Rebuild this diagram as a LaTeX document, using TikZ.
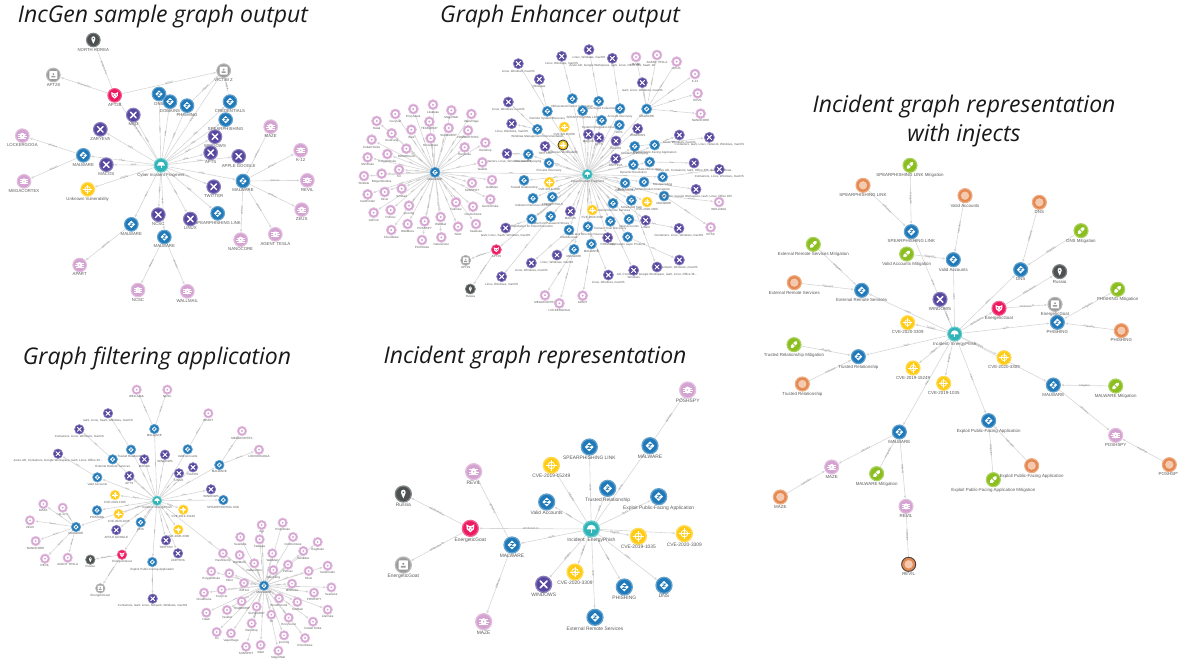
\documentclass[tikz,border=0pt]{standalone}
\usepackage{fontspec}
\setmainfont{Liberation Sans}
\newfontfamily\titlefont[ItalicFont={Open Sans Italic}]{Open Sans}
\usetikzlibrary{arrows.meta}
\pgfdeclarelayer{edges}
\pgfsetlayers{edges,main}
\definecolor{kap}{HTML}{2079B8}
\definecolor{ctool}{HTML}{58479F}
\definecolor{cmal}{HTML}{D5A3D2}
\definecolor{cvul}{HTML}{FFCB14}
\definecolor{cinc}{HTML}{2FB4B8}
\definecolor{cact}{HTML}{EC1A61}
\definecolor{cloc}{HTML}{4D5151}
\definecolor{cid}{HTML}{9B9B9B}
\definecolor{cind}{HTML}{E5884F}
\definecolor{cmit}{HTML}{8ABF1F}
\definecolor{cedge}{HTML}{D6D6D6}
\definecolor{clab}{HTML}{595959}
\tikzset{
 gbase/.style={circle,inner sep=0pt,minimum size={2*\R pt},line width={\R*0.16 pt}},
 nap/.style={gbase,fill=kap,draw=kap!70},
 ntool/.style={gbase,fill=ctool,draw=ctool!70},
 nmal/.style={gbase,fill=cmal,draw=cmal!70},
 nmals/.style={gbase,fill=cmal,draw=cmal!70},
 nvul/.style={gbase,fill=cvul,draw=cvul!70},
 ninc/.style={gbase,fill=cinc,draw=cinc!70},
 nact/.style={gbase,fill=cact,draw=cact!70},
 nloc/.style={gbase,fill=cloc,draw=cloc!70},
 nid/.style={gbase,fill=cid,draw=cid!70},
 nind/.style={gbase,fill=cind,draw=cind!70},
 nmit/.style={gbase,fill=cmit,draw=cmit!70},
 lab/.style={anchor=north,inner sep=0pt,text=clab,font=\fontsize{\fs}{\fs}\selectfont},
 edg/.style={draw=cedge,line width=0.6pt,-{Latex[length=3pt,width=2.6pt]}},
 elab/.style={midway,sloped,inner sep=0pt,text=black!45,font=\fontsize{#1}{#1}\selectfont},
 ttl/.style={inner sep=0pt,text=black!90,font=\titlefont\itshape\fontsize{23}{28}\selectfont}
}
% icons, in units of the node radius, y pointing down
\newcommand\icnap{\fill[white] (0,-.55)--(.55,0)--(0,.55)--(-.55,0)--cycle;
 \draw[kap,line width={\R*0.09 pt}] (-.2,-.18)--(.2,-.18)--(-.2,.18)--(.2,.18);}
\newcommand\icntool{\draw[white,line width={\R*0.2 pt},line cap=round] (-.42,-.42)--(.42,.42) (.42,-.42)--(-.42,.42);}
\newcommand\icnmal{\fill[white] (0,0) ellipse (.36 and .44);
 \draw[white,line width={\R*0.08 pt}] (-.58,-.25)--(.58,-.25) (-.62,.05)--(.62,.05) (-.58,.32)--(.58,.32);
 \fill[cmal] (0,0) circle (.1);}
\newcommand\icnmals{\fill[white] (0,0) circle (.58); \fill[cmal] (0,0) circle (.22);}
\newcommand\icnvul{\draw[white,line width={\R*0.1 pt}] (0,0) circle (.42); \fill[white] (0,0) circle (.16);
 \draw[white,line width={\R*0.08 pt}] (-.65,0)--(.65,0) (0,-.65)--(0,.65);}
\newcommand\icninc{\fill[white] (-.58,.05) .. controls (-.55,-.72) and (.55,-.72) .. (.58,.05) -- cycle;
 \draw[white,line width={\R*0.1 pt}] (0,0)--(0,.45);}
\newcommand\icnact{\fill[white] (-.5,-.5)--(-.15,-.3)--(.15,-.3)--(.5,-.5)--(.45,.1)--(0,.5)--(-.45,.1)--cycle;
 \fill[cact] (-.22,-.06) circle (.1) (.22,-.06) circle (.1) (0,.2) circle (.07);}
\newcommand\icnloc{\fill[white] (-.3,-.2) .. controls (-.3,-.65) and (.3,-.65) .. (.3,-.2) .. controls (.3,0) and (.1,.3) .. (0,.55) .. controls (-.1,.3) and (-.3,0) .. (-.3,-.2) -- cycle; \fill[cloc] (0,-.2) circle (.11);}
\newcommand\icnid{\fill[white,rounded corners={\R*0.1 pt}] (-.58,-.58) rectangle (.58,.58);
 \fill[cid] (0,-.15) circle (.15) (-.3,.34) rectangle (.3,.12);}
\newcommand\icnind{\fill[cind!45!white] (0,0) circle (.6);}
\newcommand\icnmit{\draw[white,line width={\R*0.46 pt},line cap=round] (-.3,.3)--(.3,-.3);
 \draw[cmit,line width={\R*0.1 pt}] (-.2,-.2)--(.2,.2);}
% panel settings: origin, radius, label size, edge label size
\newcommand\pn[5]{\def\ox{#1}\def\oy{#2}\def\R{#3}\def\fs{#4}\def\efs{#5}}
\newcommand\gn[5]{%
 \pgfmathsetmacro\px{\ox+#2/3}\pgfmathsetmacro\py{\oy+#3/3}%
 \node[#4] (#1) at (\px,\py) {};
 \begin{scope}[shift={(\px,\py)},x=\R pt,y=-\R pt]\csname ic#4\endcsname\end{scope}
 \node[lab] (#1-l) at (\px,\py+\R+1) {#5};}
\newcommand\nl[3]{\foreach \xx/\yy/\ta [count=\ii] in {#3}{\gn{#2\ii}{\xx}{\yy}{#1}{\ta}}}
% connectors are collected, then all drawn at the end on one layer
\gdef\edgelist{}
\newcommand\doed[4]{\draw[edg] (#1) -- node[elab=#4]{#3} (#2);}
\newcommand\ed[3]{\xdef\edgelist{\unexpanded\expandafter{\edgelist}\noexpand\doed{#1}{#2}{#3}{\efs}}}
\newcommand\eds[3]{\foreach \tg in {#3}{\ed{#1}{\tg}{#2}}}
\newcommand\edn[4]{\foreach \ii in {1,...,#4}{\ed{#1}{#3\ii}{#2}}}
\newcommand\dring[1]{\draw[black!75,line width=0.9pt] (#1.center) circle (\R pt);}
\begin{document}
\begin{tikzpicture}[x=1pt,y=-1pt]
\useasboundingbox (0,0) rectangle (1178,659);
% titles
\node[ttl] (t1) at (163,17) {IncGen sample graph output};
\node[ttl] (t2) at (560,17) {Graph Enhancer output};
\node[ttl] (t3) at (964,107) {Incident graph representation};
\node[ttl] (t4) at (964,136) {with injects};
\node[ttl] (t5) at (157,358) {Graph filtering application};
\node[ttl] (t6) at (535,358) {Incident graph representation};

% ---------- panel 1
\pn{0}{0}{6.8}{4.3}{2.6}
\gn{ah}{483}{496}{ninc}{Cyber Incident Fragment}
\gn{anr}{280}{120}{nloc}{NORTH KOREA}
\gn{ai}{160}{225}{nid}{APT28}
\gn{aa}{344}{286}{nact}{APT28}
\gn{av}{671}{212}{nid}{VICTIM Z}
\gn{au}{263}{568}{nvul}{Unknown Vulnerability}
\nl{nap}{ab}{477/282/DNS,510/305/DOMAINS,561/317/PHISHING,690/305/CREDENTIALS,677/359/SPEARPHISHING,250/466/MALWARE,729/543/MALWARE,653/640/SPEARPHISHING LINK,394/673/MALWARE,493/711/MALWARE}
\nl{ntool}{at}{400/345/MBD,301/388/ZARYEVA,645/410/WINDOWS,632/458/APTS,716/469/APPLE GOOGLE,319/494/MACOS,641/560/TWITTER,475/644/NCSC,571/657/LINUX}
\nl{nmal}{am}{67/407/LOCKERGOGA,72/544/MEGACORTEX,812/380/MAZE,902/451/K-12,922/541/REVIL,905/629/ZEUS,826/703/AGENT TESLA,722/719/NANOCORE,239/795/APART,414/870/NCSC,562/874/WALLMAIL}
\edn{ah}{uses}{ab}{10}
\edn{ah}{uses}{at}{9}
\eds{ah}{targets}{av,au}
\ed{ah}{aa}{attributed-to}
\ed{aa}{anr}{attributed-to}
\ed{aa}{ai}{attributed-to}
\ed{aa}{av}{targets}
\eds{ab4}{targets}{av}
\eds{ab3}{targets}{av}
\eds{ab6}{delivers}{am1,am2}
\eds{ab7}{delivers}{am3,am4,am5,am6,am7,am8}
\eds{ab9}{delivers}{am9}
\eds{ab10}{delivers}{am10,am11}

% ---------- panel 2
\pn{340}{30}{5}{3}{2}
\gn{bh}{742}{433}{ninc}{Cyber Incident Fragment}
\gn{bg}{285}{427}{nap}{MALWARE}
\nl{nap}{bb}{697/206/Obfuscated Files or Information,776/214/Remote Email Collection,622/244/Remote System Discovery,728/242/SPEARPHISHING LINK,840/236/Account Discovery,920/237/MALWARE,785/271/System Information Discovery,592/298/Windows Management Instrumentation,838/285/DNS,884/349/Credential Dumping,944/345/Exploit Public-Facing Application,565/373/Password Spraying,627/399/Process Discovery,880/404/Dynamic Resolution,929/396/Data Obfuscation,552/451/Trusted Relationship,637/501/CREDENTIALS,579/505/Indicator Removal on Host,968/441/Masquerading,912/456/Multi-Factor Authentication Interception,855/459/Valid Accounts,972/498/MALWARE,819/520/External Remote Services,874/511/Scheduled Task,632/559/Data from Password Stores,575/567/Exploitation for Client Execution,687/600/Deobfuscate/Decode Files or Information,744/590/File and Directory Discovery,811/574/Domain Trust Discovery,867/568/Valid Accounts,863/621/Application Layer Protocol,702/658/MALWARE,754/642/MALWARE}
\nl{ntool}{bt}{535/101/{Linux, Windows, macOS},665/79/{Linux, Windows, macOS},747/59/{Linux, Windows, macOS},817/85/{Azure AD, Google Workspace, IaaS, Linux, Office 365, SaaS, Wi},598/148/Windows,505/216/{Linux, Windows, macOS},515/281/{Linux, Windows, macOS},907/158/{IaaS, Linux, Windows, macOS},893/296/WINDOWS,1018/315/{Linux, Windows, macOS},1108/322/{Containers, IaaS, Linux, Network, Windows, macOS},1062/399/{Azure AD, Containers, IaaS, Office 365, SaaS, Windows},1138/418/{Containers, Linux, Windows, macOS},1068/478/{Azure AD, Google Workspace, IaaS, Linux, Office 365},917/571/LINUX,1017/595/{Containers, Linux, Windows, macOS},1018/690/{Network, Windows, macOS},951/711/{AD, Containers, Google Workspace, IaaS, Linux, Office 36...},881/721/Windows,805/735/{Linux, Windows, macOS},651/675/{Linux, Windows, macOS},574/699/{Linux, Windows, macOS},485/740/{Linux, Windows, macOS},497/594/{IaaS, Linux, SaaS, Windows, macOS},501/371/{Containers, Linux, Windows, macOS},615/349/TWITTER,691/544/MACOS,803/623/DOMAINS,745/313/MACOS,777/323/APTS,828/333/NACOS,827/386/ZARYEVA}
\nl{nvul}{by}{673/291/CVE-2019-1035,669/345/Unknown Vulnerability,628/457/CVE-2019-1035,757/540/CVE-2020-3309,921/516/CVE-2020-3309}
\dring{by2}
\nl{nmals}{bp}{888/81/MAZE,951/75/AGENT TESLA,1010/95/ZEUS,1065/132/K-12,1073/190/REVIL,1082/251/NANOCORE,1137/516/WELLMAIL,1112/592/NCSC,615/796/MEGACORTEX,658/820/LOCKERGOGA,728/797/APART}
\nl{nmals}{bq}{110/273/Hawk,166/252/CozyCar,220/237/EnvyScout,279/224/LiteDuke,334/241/MagicWeb,394/252/VaporRage,268/275/TEARDROP,214/299/Bad,155/310/SoreFang,326/294/SUNBURST,384/301/HAMMERTOSS,95/329/Cobalt Strike,199/356/BloodHound,272/325/OnionDuke,374/352/RegDuke,436/338/Raindrop,142/372/PolyglotDuke,83/382/MiniDuke,427/397/Tasklist,177/419/Tor,125/431/BotgenStudios,72/438/SDelete,456/450/GoldMax,396/459/SUNSPOT,185/476/SimBad,134/486/Sliver,83/493/GoldFinder,451/508/GeminiDuke,348/517/FatDuke,399/530/CosmicDuke,207/527/ipconfig,152/540/PsExec,101/548/AdFind,254/574/POSHSPY,302/561/WellMail,203/582/WellMess,154/600/CloudDuke,246/630/PinchDuke,304/622/NativeZone,354/590/Sibot,408/582/SeaDuke}
\gn{ba}{469}{659}{nact}{APT29}
\gn{bi}{377}{691}{nid}{APT29}
\gn{bl}{391}{777}{nloc}{Russia}
\edn{bh}{uses}{bb}{33}
\edn{bh}{targets}{by}{5}
\edn{bg}{uses}{bq}{41}
\ed{bh}{bg}{uses}
\ed{bh}{ba}{attributed-to}
\eds{ba}{attributed-to}{bi,bl}
\eds{bh}{uses}{bt26,bt27,bt28,bt29,bt30,bt31,bt32,bt9,bt15}
\ed{bb1}{bt2}{uses}\ed{bb2}{bt3}{uses}\eds{bb3}{uses}{bt1,bt5}\ed{bb5}{bt4}{uses}
\eds{bb6}{delivers}{bt8,bp1,bp2,bp3,bp4,bp5,bp6}
\ed{bb8}{bt6}{uses}\ed{bb8}{bt7}{uses}\ed{bb12}{bt25}{uses}\ed{bb11}{bt10}{uses}\ed{bb10}{bt11}{uses}
\ed{bb15}{bt12}{uses}\ed{bb19}{bt13}{uses}\ed{bb20}{bt14}{uses}\eds{bb22}{delivers}{bp7,bp8}
\ed{bb24}{bt18}{uses}\ed{bb29}{bt19}{uses}\ed{bb31}{bt17}{uses}\ed{bb30}{bt16}{uses}\ed{bb28}{bt20}{uses}
\ed{bb28}{bt21}{uses}\ed{bb27}{bt22}{uses}\ed{bb26}{bt24}{uses}\ed{bb25}{bt23}{uses}
\ed{bb33}{bp11}{delivers}\eds{bb32}{delivers}{bp9,bp10}

% ---------- panel 3
\pn{0}{370}{4.7}{3}{2}
\gn{ch}{471}{392}{ninc}{Incident: EnergyPhish}
\nl{nap}{cb}{463/177/MALWARE,393/239/Trusted Relationship,338/268/External Remote Services,292/322/Valid Accounts,563/238/Valid Accounts,658/285/MALWARE,670/390/SPEARPHISHING LINK,291/421/PHISHING,422/457/DNS,228/471/MALWARE,457/576/Exploit Public-Facing Application}
\nl{ntool}{ct}{433/268/MACOS,495/254/WINDOWS,388/318/APTS,537/310/LINUX,579/292/NACOS,633/358/WINDOWS,349/480/APPLE GOOGLE,498/511/TWITTER,534/550/ZARYEVA}
\gn{ct10}{324}{130}{ntool}{IaaS, Linux, SaaS, Windows, macOS}
\gn{ct11}{238}{178}{ntool}{Containers, Linux, Windows, macOS}
\gn{ct12}{174}{251}{ntool}{Azure AD, Containers, Google Workspace, IaaS, Linux, Office 36...}
\gn{ct13}{458}{686}{ntool}{Containers, IaaS, Linux, Network, Windows, macOS}
\nl{nvul}{cy}{345/375/CVE-2019-1035,356/432/CVE-2020-1035,550/419/CVE-2019-15249,535/479/CVE-2020-3309}
\nl{nmals}{cp}{410/59/WELLMAIL,502/59/NCSC,625/130/APART,726/183/MEGACORTEX,777/239/LOCKERGOGA,130/402/MAZE,188/413/K-12,90/451/ZEUS,107/513/NANOCORE,135/566/REVIL,203/563/AGENT TESLA}
\gn{ca}{366}{554}{nact}{EnergeticGoat}
\gn{cl}{271}{569}{nloc}{Russia}
\gn{ci}{301}{655}{nid}{EnergeticGoat}
\edn{ch}{uses}{cb}{11}
\edn{ch}{uses}{ct}{9}
\edn{ch}{targets}{cy}{4}
\eds{cb1}{delivers}{cp1,cp2}
\ed{cb2}{ct10}{uses}\ed{cb3}{ct11}{uses}\ed{cb4}{ct12}{uses}\ed{cb11}{ct13}{uses}
\ed{cb5}{cp3}{delivers}\eds{cb6}{delivers}{cp4,cp5}
\eds{cb10}{delivers}{cp6,cp7,cp8,cp9,cp10,cp11}
\ed{ch}{ca}{attributed-to}\eds{ca}{attributed-to}{cl,ci}
% malware cluster
\pn{190}{510}{4.7}{3}{2}
\gn{dh}{222}{227}{nap}{MALWARE}
\nl{nmals}{dp}{215/45/Agt,278/38/PinchDuke,151/81/SeaDuke,209/88/FatDuke,309/81/CosmicDuke,383/96/RegDuke,99/130/HashDump,149/135/WellMess,247/130/WellMail,340/123/GoldMax,193/160/NativeZone,294/164/PsExec,413/167/GoldFinder,250/180/SoreFang,356/183/Sliver,64/184/PolyglotDuke,118/190/Sibot,306/221/MiniDuke,162/219/AdFind,424/232/SeaDuke,42/248/CloudDuke,95/239/CozyCar,372/248/POSHSPY,267/265/BloodHound,155/274/TEARDROP,322/276/SimBad,413/299/LiteDuke,49/308/Hawk,111/300/Tasklist,200/290/SUNBURST,244/314/Tor,296/323/EnvyScout,369/335/Cobalt Strike,80/366/Tor,123/370/VaporRage,185/340/Raindrop,282/376/ipconfig,345/384/OnionDuke,168/410/SUNSPOT,212/405/Sibot,265/422/MagicWeb}
\edn{dh}{uses}{dp}{41}
\ed{ch}{dh}{uses}

% ---------- panel 4
\pn{370}{370}{8}{4.9}{3}
\gn{eh}{664}{477}{ninc}{Incident: EnergyPhish}
\nl{nap}{eb}{658/231/SPEARPHISHING LINK,840/227/MALWARE,713/355/Trusted Relationship,866/380/Exploit Public-Facing Application,530/396/Valid Accounts,426/525/MALWARE,763/651/PHISHING,882/646/DNS,675/742/External Remote Services}
\nl{nvul}{ey}{544/286/CVE-2019-15249,805/499/CVE-2019-1035,943/491/CVE-2020-3309,615/606/CVE-2020-3309}
\gn{et}{521}{643}{ntool}{WINDOWS}
\nl{nmal}{ep}{953/60/POSHSPY,311/305/REVIL,341/755/MAZE}
\gn{ea}{301}{475}{nact}{EnergeticGoat}
\gn{el}{100}{372}{nloc}{Russia}
\gn{ei}{100}{585}{nid}{EnergeticGoat}
\edn{eh}{uses}{eb}{9}
\edn{eh}{targets}{ey}{4}
\ed{eh}{et}{targets}
\ed{eh}{ea}{attributed-to}
\eds{ea}{attributed-to}{el,ei}
\ed{eb2}{ep1}{delivers}
\eds{eb6}{delivers}{ep2,ep3}

% ---------- panel 5
\pn{740}{140}{7}{4.4}{2.8}
\gn{fh}{644}{582}{ninc}{Incident: EnergyPhish}
\nl{nmit}{fg}{510/76/SPEARPHISHING LINK Mitigation,1023/272/DNS Mitigation,220/313/External Remote Services Mitigation,500/342/Valid Accounts Mitigation,1133/448/PHISHING Mitigation,162/614/Trusted Relationship Mitigation}
\nl{nind}{fo}{369/136/SPEARPHISHING LINK,675/167/Valid Accounts,898/187/DNS,163/428/External Remote Services,1144/572/PHISHING}
\nl{nap}{fb}{514/275/SPEARPHISHING LINK,640/359/Valid Accounts,842/389/DNS,365/451/External Remote Services,952/547/PHISHING,355/650/Trusted Relationship}
\gn{ft}{600}{478}{ntool}{WINDOWS}
\gn{fa}{777}{505}{nact}{EnergeticGoat}
\gn{fl}{959}{395}{nloc}{Russia}
\gn{fi}{945}{493}{nid}{EnergeticGoat}
\nl{nvul}{fy}{503/548/CVE-2020-3309,792/653/CVE-2020-3309,519/684/CVE-2019-15249,611/730/CVE-2019-1035}
\pn{740}{370}{7}{4.4}{2.8}
\nl{nap}{fc}{940/45/MALWARE,746/152/Exploit Public-Facing Application,478/186/MALWARE}
\nl{nmit}{fm}{1127/48/MALWARE Mitigation,410/311/MALWARE Mitigation,760/329/Exploit Public-Facing Application Mitigation}
\nl{nind}{fr}{187/42/Trusted Relationship,875/287/Exploit Public-Facing Application,1288/284/POSHSPY,121/381/MAZE,506/583/REVIL}
\dring{fr5}
\nl{nmal}{fp}{1127/196/POSHSPY,275/291/MAZE,498/409/REVIL}
\edn{fh}{uses}{fb}{6}
\edn{fh}{targets}{fy}{4}
\edn{fh}{uses}{fc}{3}
\ed{fh}{ft}{targets}
\ed{fh}{fa}{attributed-to}
\eds{fa}{attributed-to}{fl,fi}
\ed{fg1}{fb1}{mitigates}\ed{fg2}{fb3}{mitigates}\ed{fg3}{fb4}{mitigates}\ed{fg4}{fb2}{mitigates}\ed{fg5}{fb5}{mitigates}\ed{fg6}{fb6}{mitigates}
\ed{fo1}{fb1}{indicates}\ed{fo2}{fb2}{indicates}\ed{fo3}{fb3}{indicates}\ed{fo4}{fb4}{indicates}\ed{fo5}{fb5}{indicates}\ed{fr1}{fb6}{indicates}
\ed{fm1}{fc1}{mitigates}\ed{fm2}{fc3}{mitigates}\ed{fm3}{fc2}{mitigates}\ed{fr2}{fc2}{indicates}
\ed{fc1}{fp1}{delivers}\eds{fc3}{delivers}{fp2,fp3}
\ed{fr3}{fp1}{indicates}\ed{fr4}{fp2}{indicates}\ed{fr5}{fp3}{indicates}
\begin{pgfonlayer}{edges}\edgelist\end{pgfonlayer}
\end{tikzpicture}
\end{document}
